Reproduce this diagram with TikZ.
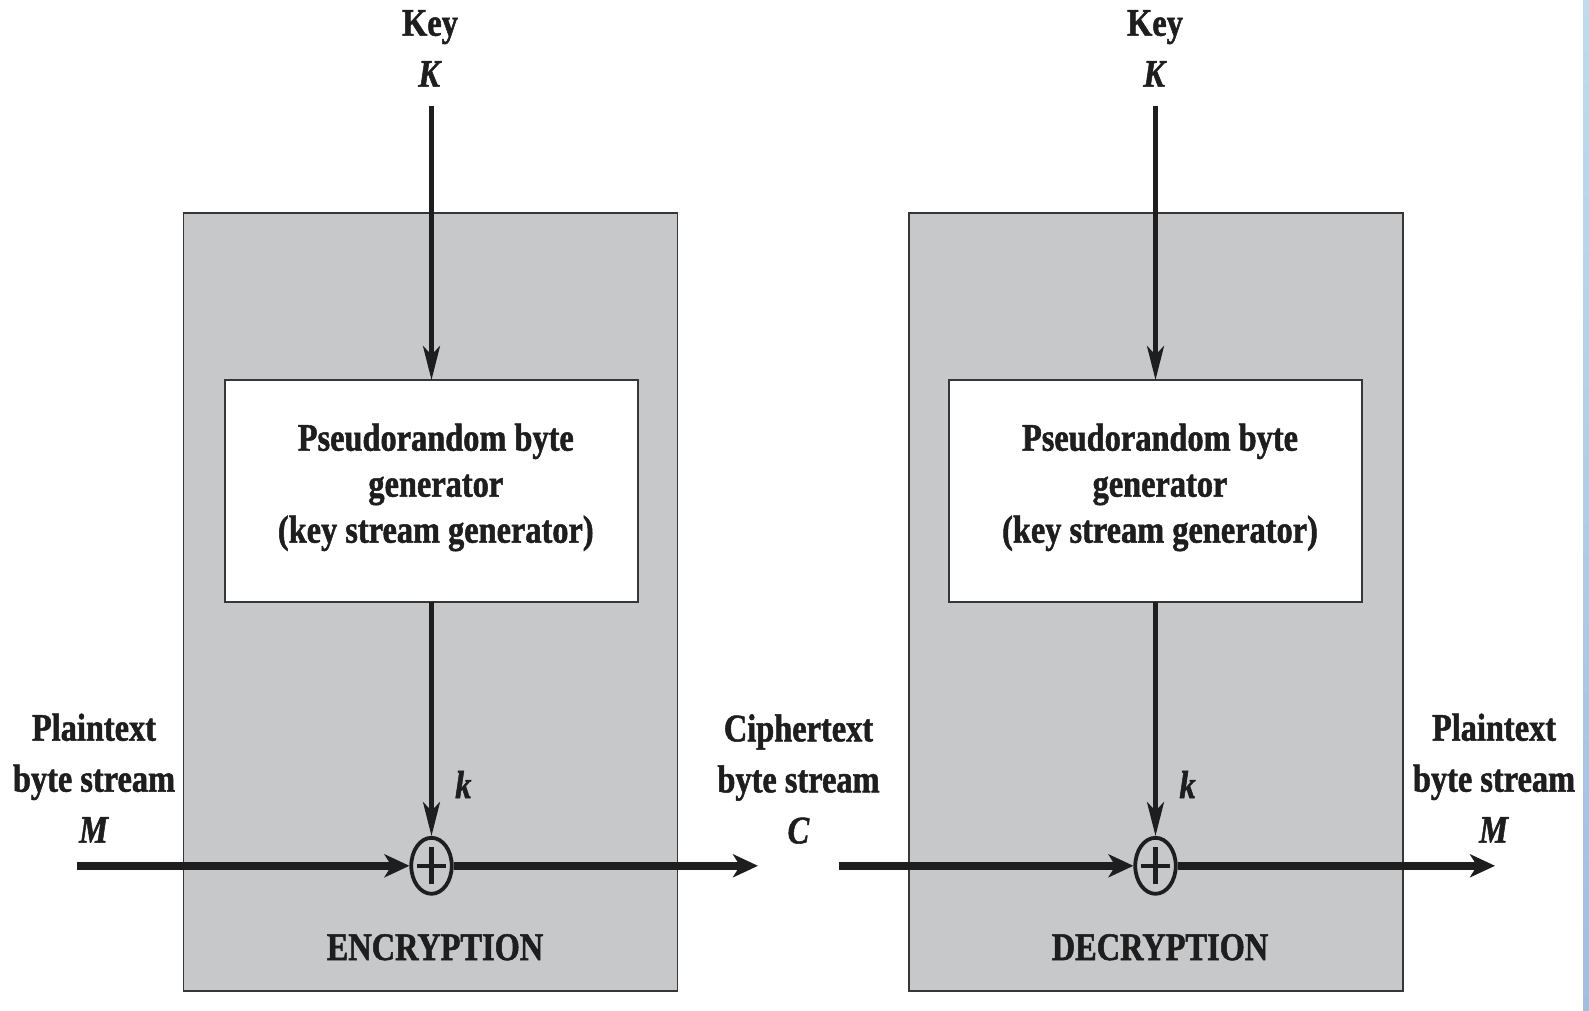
\documentclass[tikz,border=0pt]{standalone}
\usepackage{fontspec}
\setmainfont[FakeStretch=0.83, BoldFeatures={FakeBold=1.3}, BoldItalicFeatures={FakeBold=1.3}]{Liberation Serif}
\usetikzlibrary{arrows.meta,shapes.geometric}
\definecolor{boxgrey}{RGB}{199,200,202}
\definecolor{edgegrey}{RGB}{55,55,55}
\definecolor{inkblack}{RGB}{30,30,30}
\definecolor{stripbluetop}{RGB}{190,220,238}
\definecolor{stripbluebot}{RGB}{160,190,225}
\begin{document}
\begin{tikzpicture}[x=1pt,y=-1pt,
  every node/.style={inner sep=0pt, outer sep=0pt},
  lbl/.style={font=\fontsize{39}{51}\selectfont\bfseries, align=center, text=inkblack},
  gentext/.style={font=\fontsize{39}{46}\selectfont\bfseries, align=center, text=inkblack},
  stage/.style={draw=edgegrey, line width=1.8pt, fill=boxgrey, minimum width=494pt, minimum height=778pt, anchor=north west},
  genbox/.style={draw=edgegrey, line width=1.8pt, fill=white, minimum width=412.5pt, minimum height=222pt},
  xor/.style={ellipse, draw=inkblack, line width=3.8pt, minimum width=40.5pt, minimum height=56pt, outer sep=1.8pt,
    path picture={\draw[line width=4.2pt, inkblack]
      ([xshift=-14.5pt]path picture bounding box.center) -- ([xshift=14.5pt]path picture bounding box.center)
      ([yshift=-18.5pt]path picture bounding box.center) -- ([yshift=18.5pt]path picture bounding box.center);}},
  keyarrow/.style={draw=inkblack, line width=4.5pt, -{Stealth[length=34pt,width=17pt,inset=9pt]}},
  dataarrow/.style={draw=inkblack, line width=8.3pt, -{Stealth[length=25pt,width=23pt,inset=7pt]}},
]
\useasboundingbox (0,0) rectangle (1589,1011);
\fill[white] (0,0) rectangle (1589,1011);
\shade[top color=stripbluetop, bottom color=stripbluebot] (1583,0) rectangle (1589,1011);

% stage boxes
\node[stage] (encbox) at (183.4,212.7) {};
\node[stage] (decbox) at (909,212.7) {};

% generator boxes
\node[genbox] (genL) at (431.5,491) {};
\node[genbox] (genR) at (1155.5,491) {};
\node[gentext, anchor=north] (genLt) at (435.8,423.6) {Pseudorandom byte\\generator\\(key stream generator)};
\node[gentext, anchor=north] (genRt) at (1160,423.6) {Pseudorandom byte\\generator\\(key stream generator)};

% XOR
\node[xor] (xorL) at (431.5,865.8) {};
\node[xor] (xorR) at (1155.5,865.8) {};

% labels
\node[lbl, anchor=north] (keyLt) at (430,10.2) {Key\\\textit{K}};
\node[lbl, anchor=north] (keyRt) at (1155,10.2) {Key\\\textit{K}};
\node[lbl, anchor=north] (ptL) at (94,713.6) {Plaintext\\byte stream\\\textit{M}};
\node[lbl, anchor=north] (ctL) at (798.5,714.3) {Ciphertext\\byte stream\\\textit{C}};
\node[lbl, anchor=north] (ptR) at (1494,713.6) {Plaintext\\byte stream\\\textit{M}};
\node[lbl, anchor=base] (klblL) at (463.3,798) {\textit{k}};
\node[lbl, anchor=base] (klblR) at (1187.5,798) {\textit{k}};
\node[lbl, anchor=base] (encL) at (435,960) {ENCRYPTION};
\node[lbl, anchor=base] (decL) at (1160,960) {DECRYPTION};

% free ends
\coordinate (keyL) at (431.5,106);
\coordinate (keyR) at (1155.5,106);
\coordinate (inL) at (77,865.8);
\coordinate (outL) at (758,865.8);
\coordinate (inR) at (838.5,865.8);
\coordinate (outR) at (1495,865.8);

% connectors
\draw[keyarrow] (keyL) -- (genL.north);
\draw[keyarrow] (genL.south) -- (xorL.north);
\draw[keyarrow] (keyR) -- (genR.north);
\draw[keyarrow] (genR.south) -- (xorR.north);
\draw[dataarrow] (inL) -- (xorL.west);
\draw[dataarrow] (xorL.east) -- (outL);
\draw[dataarrow] (inR) -- (xorR.west);
\draw[dataarrow] (xorR.east) -- (outR);
\end{tikzpicture}
\end{document}
